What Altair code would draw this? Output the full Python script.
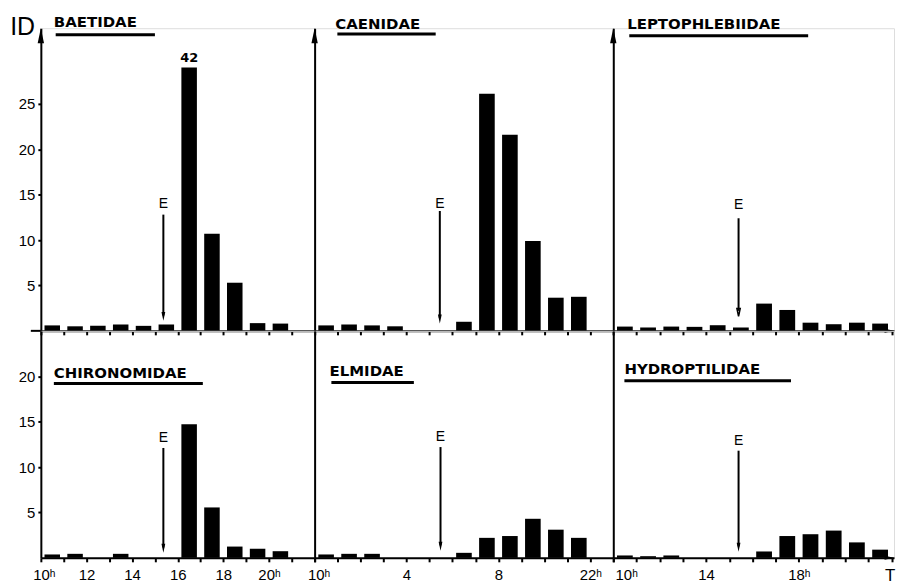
import altair as alt
import pandas as pd

# ---------------- data ----------------
SLOTS = [10.5, 11.5, 12.5, 13.5, 14.5, 15.5, 16.5, 17.5, 18.5, 19.5, 20.5, 21.5]

BAETIDAE = [0.6, 0.5, 0.55, 0.7, 0.55, 0.7, 42, 10.7, 5.3, 0.85, 0.8, None]
CAENIDAE = [0.6, 0.7, 0.6, 0.5, None, None, 1.0, 26.1, 21.6, 9.9, 3.65, 3.75]
LEPTOPHLEBIIDAE = [0.47, 0.37, 0.47, 0.44, 0.62, 0.37, 3.0, 2.3, 0.9, 0.73, 0.9, 0.8]
CHIRONOMIDAE = [0.37, 0.44, None, 0.44, None, None, 14.7, 5.55, 1.24, 1.0, 0.73, None]
ELMIDAE = [0.37, 0.44, 0.44, None, None, None, 0.55, 2.2, 2.4, 4.3, 3.1, 2.2]
HYDROPTILIDAE = [0.26, 0.18, 0.26, None, None, None, 0.7, 2.4, 2.6, 3.0, 1.7, 0.9]

NAMES = ["BAETIDAE", "CAENIDAE", "LEPTOPHLEBIIDAE",
         "CHIRONOMIDAE", "ELMIDAE", "HYDROPTILIDAE"]
SERIES = [BAETIDAE, CAENIDAE, LEPTOPHLEBIIDAE, CHIRONOMIDAE, ELMIDAE, HYDROPTILIDAE]
E_TIME = [15.37, 15.45, 15.4, 15.37, 15.48, 15.4]

Y_TICKS_TOP = [5, 10, 15, 20, 25]
Y_TICKS_BOTTOM = [5, 10, 15, 20]
X_TICK_VALUES = [[10, 12, 14, 16, 18, 20], [10, 14, 18, 22], [10, 14, 18]]
X_TICK_LABELS = [["10ʰ", "12", "14", "16", "18", "20ʰ"],
                 ["10ʰ", "4", "8", "22ʰ"],
                 ["10ʰ", "14", "18ʰ"]]
Y_LABEL = "ID"
X_LABEL = "T"
CAP = 29  # broken bar drawn up to here

# ---------------- layout ----------------
COL_WIDTH = [275, 300, 282]
COL_XMAX = [22, 23, 22.1]
ROW_HEIGHT = [304, 228]
ROW_YMAX = [33.33, 25.0]

# title: x start, y text, underline x0, x1, y
TITLE_POS = [
    (10.57, 34.0, 10.65, 15.0, 32.6),
    (10.9, 33.8, 10.99, 15.27, 32.7),
    (10.6, 33.8, 10.69, 18.4, 32.5),
    (10.57, 20.4, 10.57, 17.1, 19.2),
    (10.65, 20.6, 10.73, 14.32, 19.3),
    (10.48, 20.8, 10.48, 17.66, 19.5),
]
# E marker: text y, line top, arrow tip
E_POS = [
    (14.0, 12.8, 1.1),
    (14.0, 13.2, 0.8),
    (13.9, 12.4, 1.6),
    (13.2, 12.1, 0.55),
    (13.3, 12.2, 0.77),
    (12.9, 11.8, 0.66),
]
E_HOLLOW = [False, False, True, False, False, False]
LABEL10_OFFSET = [3, 4, 13]

UP = "M0,0L0.4,1.9L-0.4,1.9Z"
DOWN = "M0,0L0.4,-1.9L-0.4,-1.9Z"
RIGHT = "M0,0L-1.9,-0.4L-1.9,0.4Z"

FONT = "Liberation Sans"


def label_expr(vals, labs):
    expr = "''"
    for v, l in reversed(list(zip(vals, labs))):
        expr = f"datum.value == {v} ? '{l}' : ({expr})"
    return expr


def make_panel(i):
    row, col = divmod(i, 3)
    xmax = COL_XMAX[col]
    ymax = ROW_YMAX[row]
    xs = alt.Scale(domain=[10, xmax], nice=False, zero=False)
    ys = alt.Scale(domain=[0, ymax], nice=False, zero=False)
    hours = list(range(10, int(xmax) + 1))

    common = dict(title=None, grid=False, domainColor="black", domainWidth=2,
                  tickColor="black", tickWidth=2)
    if row == 1:
        xaxis = alt.Axis(values=hours, labelExpr=label_expr(X_TICK_VALUES[col], X_TICK_LABELS[col]),
                         tickSize=4, labelFont=FONT, labelFontSize=15, labelColor="black",
                         labelPadding=6, labelFlush=False, labelOverlap=False,
                         labelOffset={"condition": {"test": "datum.value == 10",
                                                    "value": LABEL10_OFFSET[col]}, "value": 0},
                         **common)
    else:
        xaxis = alt.Axis(values=hours, labels=False, tickSize=4, **common)
    if col == 0:
        yaxis = alt.Axis(values=Y_TICKS_TOP if row == 0 else Y_TICKS_BOTTOM, tickSize=3,
                         labelFont=FONT, labelFontSize=15, labelColor="black",
                         labelPadding=3, labelFlush=False, labelOverlap=False, **common)
    else:
        yaxis = alt.Axis(labels=False, ticks=False, **common)

    def X(field):
        return alt.X(field, scale=xs, axis=xaxis)

    def Y(field):
        return alt.Y(field, scale=ys, axis=yaxis)

    df = pd.DataFrame({"hour": SLOTS, "id": SERIES[i]}).dropna()
    base = alt.Chart(df).transform_calculate(
        lo="datum.hour - 0.34", hi="datum.hour + 0.34",
        top=f"min(datum.id, {CAP})", zero="0")
    bars = base.mark_rect(color="black").encode(
        x=X("lo:Q"), x2="hi:Q", y=Y("top:Q"), y2="zero:Q")
    layers = [bars]

    broken = base.transform_filter(f"datum.id > {CAP}").mark_text(
        font="DejaVu Sans", fontSize=13, fontWeight="bold", color="black",
        baseline="bottom", dy=-3).encode(x=X("hour:Q"), y=Y("top:Q"), text="id:Q")
    layers.append(broken)

    tx, ty, ux0, ux1, uy = TITLE_POS[i]
    tdf = pd.DataFrame({"name": [NAMES[i]], "tx": [tx], "ty": [ty],
                        "ux0": [ux0], "ux1": [ux1], "uy": [uy]})
    layers.append(alt.Chart(tdf).mark_text(
        font="DejaVu Sans", fontSize=15, fontWeight="bold", color="black",
        align="left", baseline="middle").encode(x=X("tx:Q"), y=Y("ty:Q"), text="name:N"))
    layers.append(alt.Chart(tdf).mark_rule(color="black", strokeWidth=3).encode(
        x=X("ux0:Q"), x2="ux1:Q", y=Y("uy:Q")))

    ety, etop, etip = E_POS[i]
    edf = pd.DataFrame({"ex": [E_TIME[i]], "ety": [ety], "etop": [etop],
                        "etip": [etip], "eline": [etip + 0.6], "lab": ["E"]})
    layers.append(alt.Chart(edf).mark_rule(color="black", strokeWidth=2).encode(
        x=X("ex:Q"), y=Y("etop:Q"), y2="eline:Q"))
    if E_HOLLOW[i]:
        head = alt.Chart(edf).mark_point(
            shape=DOWN, filled=False, color="black", size=70, opacity=1, strokeWidth=1.5)
    else:
        head = alt.Chart(edf).mark_point(
            shape=DOWN, filled=True, color="black", size=90, opacity=1, strokeWidth=0)
    layers.append(head.encode(x=X("ex:Q"), y=Y("etip:Q")))
    layers.append(alt.Chart(edf).mark_text(
        font=FONT, fontSize=14, color="black", baseline="middle").encode(
        x=X("ex:Q"), y=Y("ety:Q"), text="lab:N"))

    if row == 0:
        adf = pd.DataFrame({"ax": [10], "ay": [ymax]})
        layers.append(alt.Chart(adf).mark_point(
            shape=UP, filled=True, color="black", size=256, opacity=1, strokeWidth=0).encode(
            x=X("ax:Q"), y=Y("ay:Q")))
    if col == 2:
        rdf = pd.DataFrame({"ax": [xmax], "ay": [0]})
        layers.append(alt.Chart(rdf).mark_point(
            shape=RIGHT, filled=True, color="black", size=100, opacity=1, strokeWidth=0).encode(
            x=X("ax:Q"), y=Y("ay:Q")))
    if i == 0:
        idf = pd.DataFrame({"ax": [9.2], "ay": [33.5], "lab": [Y_LABEL],
                            "bx0": [9.56], "bx1": [10.0], "by": [0.0]})
        layers.append(alt.Chart(idf).mark_text(
            font=FONT, fontSize=25, color="black", baseline="middle").encode(
            x=X("ax:Q"), y=Y("ay:Q"), text="lab:N"))
        layers.append(alt.Chart(idf).mark_rule(color="black", strokeWidth=2).encode(
            x=X("bx0:Q"), x2="bx1:Q", y=Y("by:Q")))
    if i == 5:
        tdf2 = pd.DataFrame({"ax": [21.93], "ay": [-1.1], "lab": [X_LABEL]})
        layers.append(alt.Chart(tdf2).mark_text(
            font=FONT, fontSize=17, color="black", baseline="top").encode(
            x=X("ax:Q"), y=Y("ay:Q"), text="lab:N"))

    return alt.layer(*layers).properties(width=COL_WIDTH[col], height=ROW_HEIGHT[row])


panels = [make_panel(i) for i in range(6)]
chart = alt.concat(*panels, columns=3, spacing=0, bounds="flush", align="each").properties(
    padding={"left": 1, "top": 4, "right": 0, "bottom": 0}
).configure_view(strokeWidth=0).configure(background="white")

chart.save("out.html", embed_options={"renderer": "svg", "actions": False})
